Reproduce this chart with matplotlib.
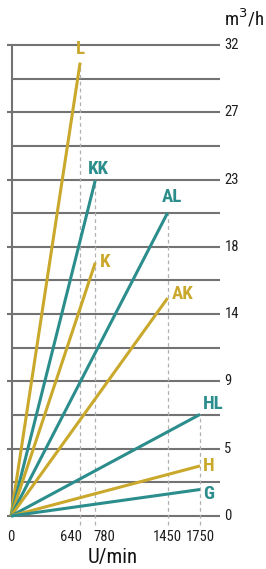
import matplotlib
matplotlib.use("Agg")
import matplotlib.pyplot as plt

# pump curves: end point of each line (speed U/min, flow m3/h)
names = ["L", "KK", "K", "AL", "AK", "HL", "H", "G"]
speeds = [640, 780, 780, 1450, 1450, 1750, 1750, 1750]
flows = [30.8, 22.8, 17.2, 20.6, 14.8, 6.9, 3.4, 1.8]
kinds = ["gold", "teal", "gold", "teal", "gold", "teal", "gold", "teal"]

# label anchor (x, y, alignment)
label_pos = [(640, 31.7, "center"), (805, 23.6, "center"), (824, 17.25, "left"),
             (1490, 21.7, "center"), (1490, 15.1, "left"), (1778, 7.6, "left"),
             (1778, 3.4, "left"), (1778, 1.5, "left")]

ytick_vals = [k * 32 / 7 for k in range(8)]
ytick_labels = ["0", "5", "9", "14", "18", "23", "27", "32"]
xtick_vals = [0, 640, 780, 1450, 1750]
# 640 and 780 sit close, so they are pushed apart
xtick_ha = ["center", "right", "left", "center", "center"]
xtick_shift = [0, 20, -20, 0, 0]

colors = {"gold": "#c9a82c", "teal": "#2b8d8c"}
grid_col = "#737373"
font = ["Roboto Condensed", "Roboto", "DejaVu Sans"]

fig = plt.figure(figsize=(2.66, 5.69), dpi=100)
ax = fig.add_axes([0, 0, 1, 1])
ax.set_xlim(-102, 2361)
ax.set_ylim(-3.6, 35.05)
ax.axis("off")

# horizontal grid
for k in range(15):
    y = k * 16 / 7
    x0 = -37 if k % 2 == 0 else 9
    ax.plot([x0, 1935], [y, y], color=grid_col, lw=1.5, zorder=1, solid_capstyle="butt")
ax.plot([9, 9], [0, 32], color=grid_col, lw=1.5, zorder=1)

for v, lab in zip(ytick_vals, ytick_labels):
    ax.text(1975, v, lab, ha="left", va="center", fontsize=10.5, color="#1e1e1e", family=font)

# dashed drop lines
tops = {}
for s, f in zip(speeds, flows):
    tops[s] = max(tops.get(s, 0), f)
for s, f in tops.items():
    ax.plot([s, s], [-0.6, f], color="#b0b0b0", lw=0.9, ls=(0, (3, 2.5)), zorder=2)

for s, ha, d in zip(xtick_vals, xtick_ha, xtick_shift):
    ax.text(s + d, -1.45, str(s), ha=ha, va="center", fontsize=10.5, color="#1e1e1e", family=font)

# pump lines
for n, s, f, k, (lx, ly, ha) in zip(names, speeds, flows, kinds, label_pos):
    ax.plot([0, s], [0, f], color=colors[k], lw=2.2, zorder=3, solid_capstyle="butt")
    ax.text(lx, ly, n, ha=ha, va="center", fontsize=13.5, fontweight="bold",
            color=colors[k], family=font)

ax.text(944, -2.85, "U/min", ha="center", va="center", fontsize=15, color="#111111", family=font)
ax.text(2340, 33.8, "m$^3$/h", ha="right", va="center", fontsize=13.5, color="#111111", family=font)

fig.savefig("out.png", dpi=100)
